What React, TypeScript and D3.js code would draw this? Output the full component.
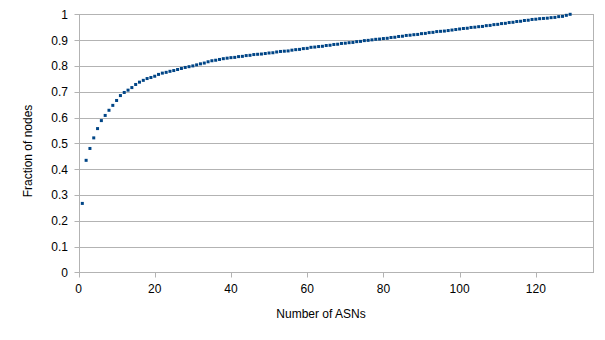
import { useEffect, useRef } from "react";
import * as d3 from "d3";

// fraction of nodes covered by the first N ASNs (N = index + 1)
const fractions = [
  0.267, 0.434, 0.48, 0.521, 0.557, 0.588, 0.608, 0.628, 0.647, 0.666,
  0.685, 0.697, 0.706, 0.716, 0.728, 0.737, 0.744, 0.751, 0.755, 0.76,
  0.767, 0.772, 0.775, 0.779, 0.782, 0.786, 0.79, 0.794, 0.797, 0.8,
  0.804, 0.808, 0.811, 0.816, 0.82, 0.822, 0.825, 0.828, 0.83, 0.832,
  0.833, 0.836, 0.837, 0.84, 0.841, 0.844, 0.845, 0.846, 0.848, 0.85,
  0.851, 0.854, 0.856, 0.857, 0.858, 0.861, 0.863, 0.864, 0.867, 0.868,
  0.872, 0.873, 0.875, 0.876, 0.879, 0.88, 0.883, 0.884, 0.887, 0.888,
  0.89, 0.891, 0.894, 0.895, 0.898, 0.899, 0.901, 0.903, 0.904, 0.906,
  0.907, 0.91, 0.911, 0.914, 0.915, 0.918, 0.919, 0.921, 0.922, 0.925,
  0.926, 0.929, 0.93, 0.933, 0.934, 0.935, 0.937, 0.939, 0.941, 0.943,
  0.945, 0.946, 0.949, 0.95, 0.952, 0.953, 0.956, 0.957, 0.96, 0.961,
  0.964, 0.965, 0.968, 0.969, 0.972, 0.973, 0.976, 0.977, 0.98, 0.981,
  0.983, 0.984, 0.985, 0.987, 0.988, 0.991, 0.992, 0.996, 1.0,
];
const xTicks = [0, 20, 40, 60, 80, 100, 120];
const yTicks = [0, 0.1, 0.2, 0.3, 0.4, 0.5, 0.6, 0.7, 0.8, 0.9, 1];

const App = () => {
  const ref = useRef<SVGSVGElement>(null);

  useEffect(() => {
    const width = 605;
    const height = 340;
    const left = 78.5;
    const right = 593;
    const top = 14.3;
    const bottom = 272.3;
    const font = "'Liberation Sans', Arial, sans-serif";
    const grid = "#b3b3b3";

    const svg = d3.select(ref.current).attr("width", width).attr("height", height);
    svg.selectAll("*").remove();

    const x = d3.scaleLinear().domain([0, 135]).range([left, right]);
    const y = d3.scaleLinear().domain([0, 1]).range([bottom, top]);
    const r = (v: number) => Math.round(v) + 0.5;

    // horizontal gridlines + outward ticks
    svg
      .append("g")
      .selectAll("line")
      .data(yTicks)
      .join("line")
      .attr("x1", r(left) - 5)
      .attr("x2", r(right))
      .attr("y1", (d) => r(y(d)))
      .attr("y2", (d) => r(y(d)))
      .attr("stroke", grid)
      .attr("stroke-width", 1);

    // plot frame
    svg
      .append("rect")
      .attr("x", r(left))
      .attr("y", r(top))
      .attr("width", r(right) - r(left))
      .attr("height", r(bottom) - r(top))
      .attr("fill", "none")
      .attr("stroke", grid);

    // x ticks
    svg
      .append("g")
      .selectAll("line")
      .data(xTicks)
      .join("line")
      .attr("x1", (d) => r(x(d)))
      .attr("x2", (d) => r(x(d)))
      .attr("y1", r(bottom))
      .attr("y2", r(bottom) + 5)
      .attr("stroke", grid);

    // y tick labels
    svg
      .append("g")
      .attr("font-family", font)
      .attr("font-size", 12)
      .attr("text-anchor", "end")
      .selectAll("text")
      .data(yTicks)
      .join("text")
      .attr("x", 68)
      .attr("y", (d) => y(d) + 4.5)
      .attr("fill", "#000")
      .text((d) => d3.format("~g")(d));

    // x tick labels
    svg
      .append("g")
      .attr("font-family", font)
      .attr("font-size", 12)
      .attr("text-anchor", "middle")
      .selectAll("text")
      .data(xTicks)
      .join("text")
      .attr("x", (d) => x(d))
      .attr("y", 292.5)
      .attr("fill", "#000")
      .text((d) => d);

    // axis titles
    svg
      .append("text")
      .attr("x", 321)
      .attr("y", 318)
      .attr("text-anchor", "middle")
      .attr("font-family", font)
      .attr("font-size", 12)
      .attr("fill", "#000")
      .text("Number of ASNs");

    svg
      .append("text")
      .attr("transform", "translate(32,151) rotate(-90)")
      .attr("text-anchor", "middle")
      .attr("font-family", font)
      .attr("font-size", 12)
      .attr("fill", "#000")
      .text("Fraction of nodes");

    // points
    const s = 3;
    svg
      .append("g")
      .attr("fill", "#004586")
      .selectAll("rect")
      .data(fractions)
      .join("rect")
      .attr("x", (d, i) => x(i + 1) - s / 2)
      .attr("y", (d) => y(d) - s / 2)
      .attr("width", s)
      .attr("height", s);
  }, []);

  return (
    <svg ref={ref} style={{ position: "absolute", left: 0, top: 0 }} />
  );
};

export default App;
